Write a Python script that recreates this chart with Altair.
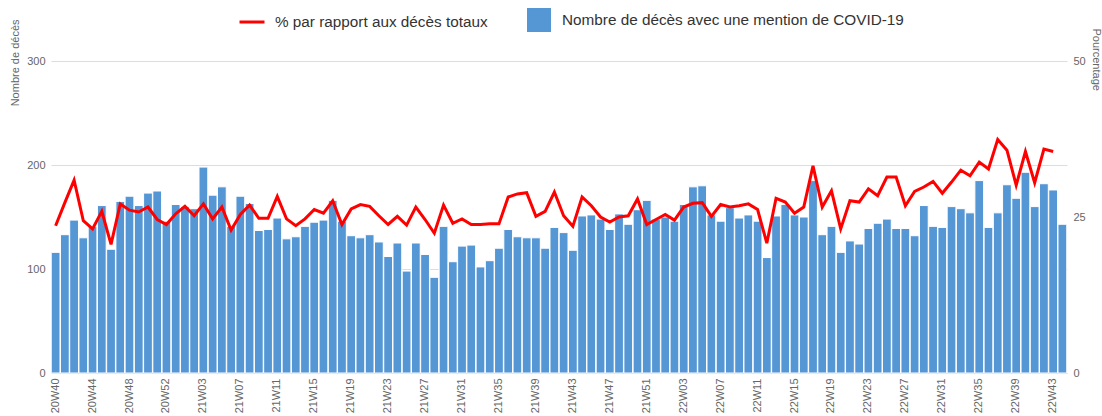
import altair as alt
import pandas as pd

# ISO weeks covered: 2020-W40 .. 2022-W44 (2020 has 53 weeks)
weeks = ([f"20W{w:02d}" for w in range(40, 54)]
         + [f"21W{w:02d}" for w in range(1, 53)]
         + [f"22W{w:02d}" for w in range(1, 45)])

# Weekly deaths with a COVID-19 mention
deaths = [
    116, 133, 147, 130, 141, 161, 119, 165, 170, 161, 173, 175, 146, 162,
    160, 158, 198, 171, 179, 141, 170, 163, 137, 138, 149, 129, 131, 141,
    145, 147, 166, 146, 132, 130, 133, 126, 112, 125, 98, 125, 114, 92,
    141, 107, 122, 123, 102, 108, 120, 138, 131, 130, 130, 120, 140,
    135, 118, 151, 152, 148, 138, 153, 143, 157, 166, 148, 150, 146, 162,
    179, 180, 152, 146, 159, 149, 152, 146, 111, 151, 162, 152, 150,
    185, 133, 141, 116, 127, 124, 139, 144, 148, 139, 139, 132, 161, 141,
    140, 160, 158, 154, 185, 140, 154, 181, 168, 193, 160, 182, 176, 143,
]

# Share of all deaths (%), not yet available for the latest week
share = [
    23.6, 27.3, 30.9, 24.4, 23.1, 25.9, 20.6, 27.1, 26.1, 25.8, 26.6, 24.6,
    23.8, 25.5, 26.7, 25.2, 27.1, 24.7, 26.6, 22.9, 25.4, 26.9, 24.8, 24.8,
    28.3, 24.7, 23.6, 24.7,
    26.2, 25.6, 27.6, 23.8, 26.3, 27.0, 26.7, 25.2, 23.8, 25.1, 23.7, 26.6,
    24.6, 22.4, 26.9, 24.0, 24.7, 23.8, 23.8, 23.9, 23.9, 28.2, 28.7, 28.9,
    25.1, 25.9, 29.0,
    25.2, 23.5, 28.2, 26.8, 25.0, 24.2, 25.0, 25.2, 27.9, 23.8, 24.6, 25.4,
    24.5, 26.6, 27.2, 27.3, 25.1, 27.0, 26.6, 26.8, 27.1, 26.2, 20.8, 28.0,
    27.4, 25.6, 26.6,
    33.2, 26.6, 29.2, 23.1, 27.6, 27.4, 29.5, 28.4, 31.4, 31.4, 26.8, 29.1,
    29.8, 30.7, 28.8, 30.6, 32.5, 31.6, 33.8, 32.7, 37.4, 35.7, 30.1, 35.5,
    30.5, 35.9, 35.5,
]

tick_weeks = weeks[::4]

BAR_LABEL = "Nombre de décès avec une mention de COVID-19"
LINE_LABEL = "% par rapport aux décès totaux"
FONT = "Liberation Sans"

bars_df = pd.DataFrame({"semaine": weeks, "deces": deaths, "serie": BAR_LABEL})
line_df = pd.DataFrame({"semaine": weeks[:len(share)], "pct": share, "serie": LINE_LABEL})

x_enc = alt.X(
    "semaine:O",
    scale=alt.Scale(domain=weeks, paddingInner=0.05, paddingOuter=0.025),
    axis=alt.Axis(
        title=None, values=tick_weeks, labelAngle=270, labelAlign="right",
        labelBaseline="middle", labelPadding=5, ticks=False, grid=False,
        domain=True, domainColor="#ccd6eb", labelFontSize=11,
        labelColor="#666666", labelFont=FONT,
    ),
)

bars = alt.Chart(bars_df).mark_bar(stroke="#ffffff", strokeWidth=1).encode(
    x=x_enc,
    y=alt.Y(
        "deces:Q",
        scale=alt.Scale(domain=[0, 300], nice=False),
        axis=alt.Axis(
            title="Nombre de décès", values=[0, 100, 200, 300], orient="left",
            grid=True, gridColor="#dddddd", domain=False, ticks=False,
            labelPadding=6, labelFontSize=11, labelColor="#666666", labelFont=FONT,
            titleFont=FONT, titleFontSize=11, titleFontWeight="normal",
            titleColor="#666666", titleAngle=270, titleAlign="right",
            titleBaseline="middle", titleX=-36, titleY=-42,
        ),
    ),
    fill=alt.Fill(
        "serie:N",
        scale=alt.Scale(domain=[BAR_LABEL], range=["#5596d5"]),
        legend=alt.Legend(
            title=None, orient="none", legendX=476, legendY=-53,
            symbolType="square", symbolSize=576, symbolStrokeWidth=0,
            labelOffset=11, labelFontSize=15.3, labelColor="#333333",
            labelFont=FONT, labelLimit=600,
        ),
    ),
)

line = alt.Chart(line_df).mark_line(color="#ff0000", strokeWidth=3).encode(
    x=alt.X("semaine:O", scale=alt.Scale(domain=weeks)),
    y=alt.Y(
        "pct:Q",
        scale=alt.Scale(domain=[0, 50], nice=False),
        axis=alt.Axis(
            title="Pourcentage", values=[0, 25, 50], orient="right",
            grid=False, domain=False, ticks=False,
            labelPadding=6, labelFontSize=11, labelColor="#666666", labelFont=FONT,
            titleFont=FONT, titleFontSize=11, titleFontWeight="normal",
            titleColor="#666666", titleAngle=90, titleAlign="left",
            titleBaseline="middle", titleX=28, titleY=-33,
        ),
    ),
    stroke=alt.Stroke(
        "serie:N",
        scale=alt.Scale(domain=[LINE_LABEL], range=["#ff0000"]),
        legend=alt.Legend(
            title=None, orient="none", legendX=187, legendY=-53,
            symbolType="stroke", symbolSize=625, symbolStrokeWidth=3,
            labelOffset=9, labelFontSize=15.3, labelColor="#333333",
            labelFont=FONT, labelLimit=600,
        ),
    ),
)

chart = (
    alt.layer(bars, line)
    .resolve_scale(y="independent", fill="independent", stroke="independent")
    .properties(
        width=1016,
        height=312,
        padding={"left": 51, "top": 61, "right": 35, "bottom": 43},
        autosize=alt.AutoSizeParams(type="none"),
        background="#ffffff",
    )
    .configure_view(stroke=None)
)

chart.save("out.html", embed_options={"renderer": "svg", "actions": False})
